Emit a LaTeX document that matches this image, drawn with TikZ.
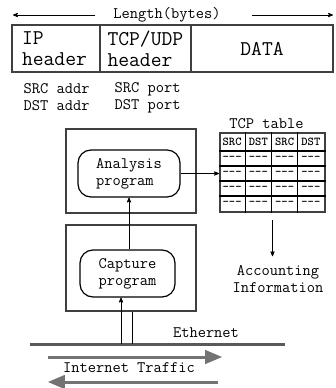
\documentclass[tikz,border=0pt]{standalone}
\usepackage{fontspec}
\usetikzlibrary{arrows}

\begin{document}
\begin{tikzpicture}[x=1pt,y=-1pt,>=stealth',thick,
    housing/.style={draw=black!75,line width=2.5pt},
    field/.style={housing,minimum height=47pt,inner ysep=0pt,
      font=\ttfamily\fontsize{21}{21}\selectfont},
    prog/.style={draw,rounded corners=13pt,line width=1.2pt,align=left,
      minimum height=47pt,font=\ttfamily\fontsize{16}{17}\selectfont},
    note/.style={align=left,font=\ttfamily\fontsize{16}{17}\selectfont},
    cell/.style={inner sep=0pt,font=\ttfamily\bfseries\fontsize{12}{12}\selectfont},
    wire/.style={draw=black!65,line width=3pt},
    flow/.style={draw=black!55,line width=3pt,-triangle 45}]
    \useasboundingbox (0,0) rectangle (335,388);

    % packet layout
    \node[note] (len) at (167,15) {Length(bytes)};
    \coordinate (lenL) at (13,15);
    \coordinate (lenR) at (333,15);
    \draw[->,shorten <=15pt] (len.west) -- (lenL);
    \draw[->,shorten <=28pt] (len.east) -- (lenR);

    \node[field,inner xsep=10pt,text width=68pt,align=left] (ip) at (56,48.5)
      {IP\\header};
    \node[field,inner xsep=7.5pt,text width=76pt,align=left] (tcpudp)
      at (145.5,48.5) {TCP/UDP\\header};
    \node[field,minimum width=142pt] (data) at (262,48.5) {DATA};

    \node[note,anchor=west] (addr) at (20,97.5) {SRC addr\\DST addr};
    \node[note,anchor=west] (port) at (111,97.5) {SRC port\\DST port};

    % monitor
    \node[housing,minimum width=130pt,minimum height=84pt] (anabox)
      at (131,171) {};
    \node[prog,minimum width=102pt] (ana) at (129,173.5)
      {Analysis\\program};
    \node[housing,minimum width=130pt,minimum height=86pt] (capbox)
      at (131,268) {};
    \node[prog,minimum width=95pt] (cap) at (127.5,273.5)
      {Capture\\program};
    \draw[->] (cap.north -| ana.south) -- (ana.south);

    % table
    \node[note] (tbltitle) at (266.5,124) {TCP table};
    \node[draw=black!75,line width=2pt,minimum width=105pt,
      minimum height=79pt] (tbl) at (272.5,172.5) {};
    \foreach \c in {1,2,3}
      \draw[line width=1.2pt] ([xshift={\c*26.25pt}]tbl.north west)
        -- ([xshift={\c*26.25pt}]tbl.south west);
    \foreach \r in {19,34,49,64}
      \draw[line width=1.2pt] ([yshift={-\r pt}]tbl.north west)
        -- ([yshift={-\r pt}]tbl.north east);
    \foreach \t [count=\k] in {SRC,DST,SRC,DST}
      \node[cell] (h\k) at ([xshift={(\k-0.5)*26.25pt},yshift=-9.5pt]tbl.north west)
        {\t};
    \foreach \k in {1,...,4}
      \foreach \r in {1,...,4}
        \node[cell] (d\k\r) at ([xshift={(\k-0.5)*26.25pt},
          yshift={-(19+15*(\r-0.5))*1pt}]tbl.north west) {-{}-{}-};
    \draw[->] (ana.east) -- (ana.east -| tbl.west);

    \node[note,align=center] (acct) at (278,279.5)
      {Accounting\\Information};
    \draw[->,shorten <=7pt,shorten >=6pt] (tbl.south) -- (tbl.south |- acct.north);

    % network
    \coordinate (ethL) at (30,344);
    \coordinate (ethR) at (285,344);
    \draw[wire] (ethL) -- (ethR);
    \node[note] (eth) at (206,333) {Ethernet};
    \coordinate (tapL) at (121,344);
    \coordinate (tapR) at (132,344);
    \draw[->] (tapL) -- (tapL |- cap.south);
    \draw (tapR) -- (tapR |- capbox.south);

    \coordinate (inL) at (48,357);
    \coordinate (inR) at (222,357);
    \coordinate (outR) at (218,382);
    \coordinate (outL) at (48,382);
    \draw[flow] (inL) -- (inR);
    \draw[flow] (outR) -- (outL);
    \node[note] (traffic) at (129,368) {Internet Traffic};
\end{tikzpicture}
\end{document}
